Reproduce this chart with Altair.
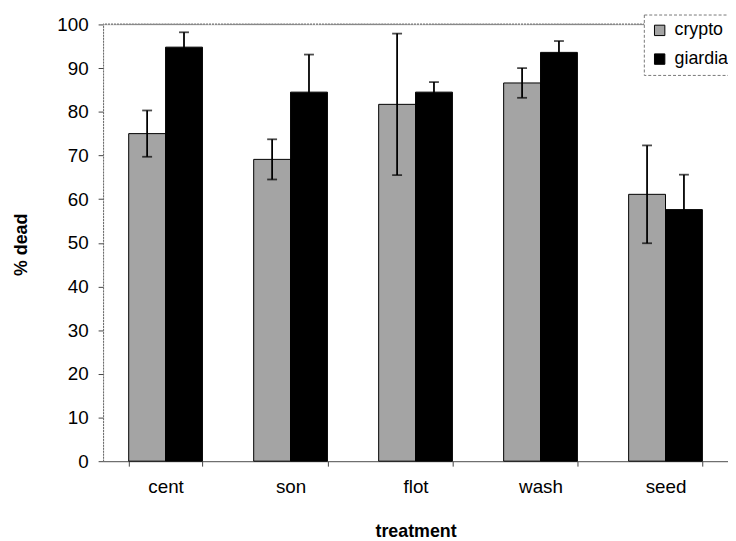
import altair as alt
import pandas as pd

treatments = ["cent", "son", "flot", "wash", "seed"]
species = ["crypto", "giardia"]
crypto_mean = [75.0, 69.1, 81.7, 86.6, 61.1]
crypto_err = [5.3, 4.6, 16.2, 3.4, 11.2]
giardia_mean = [94.8, 84.5, 84.5, 93.6, 57.6]
giardia_err = [3.4, 8.6, 2.3, 2.6, 8.0]

rows = []
for i, t in enumerate(treatments):
    rows.append({"treatment": t, "species": "crypto", "mean": crypto_mean[i],
                 "lo": crypto_mean[i] - crypto_err[i], "hi": crypto_mean[i] + crypto_err[i]})
    rows.append({"treatment": t, "species": "giardia", "mean": giardia_mean[i],
                 "lo": giardia_mean[i] - giardia_err[i], "hi": giardia_mean[i] + giardia_err[i]})
df = pd.DataFrame(rows)

FONT = "Liberation Sans"

x = alt.X("treatment:N", sort=treatments,
          scale=alt.Scale(paddingInner=0.41, paddingOuter=0.205),
          axis=alt.Axis(title="treatment", labelAngle=0, labelFontSize=19, labelFont=FONT,
                        labelColor="black", labelPadding=12, tickBand="extent", tickSize=5,
                        tickColor="#444", domainColor="#555", titleFont=FONT, titleFontSize=18,
                        titleFontWeight="bold", titleColor="black", titleY=76,
                        titleBaseline="alphabetic"))
xo = alt.XOffset("species:N", sort=species, scale=alt.Scale(paddingInner=0, paddingOuter=0))
y = alt.Y("mean:Q", scale=alt.Scale(domain=[0, 100], nice=False),
          axis=alt.Axis(title="% dead", values=list(range(0, 101, 10)), grid=False,
                        labelFontSize=19, labelFont=FONT, labelColor="black", labelPadding=10,
                        tickSize=5, tickColor="#444", domainColor="#666", domainDash=[2, 1],
                        titleFont=FONT, titleFontSize=18, titleFontWeight="bold",
                        titleColor="black", titleX=-77, titleY=222, titleAngle=-90,
                        titleBaseline="alphabetic", titleAlign="center"))

color = alt.Color("species:N", sort=species,
                  scale=alt.Scale(domain=species, range=["#a4a4a4", "#000000"]),
                  legend=alt.Legend(title=None, orient="none", legendX=546, legendY=-10,
                                    symbolType="square", symbolSize=110,
                                    symbolStrokeColor="black", symbolStrokeWidth=1,
                                    symbolOpacity=1, labelFontSize=18, labelFont=FONT,
                                    labelColor="black", labelOffset=6, rowPadding=11,
                                    padding=7, strokeColor="#777",
                                    fillColor="white"))

bars = alt.Chart(df).mark_bar(stroke="black", strokeWidth=1).encode(
    x=x, xOffset=xo, y=y, color=color)

err = alt.Chart(df).mark_rule(color="black", strokeWidth=1.8).encode(
    x=alt.X("treatment:N", sort=treatments), xOffset=alt.XOffset("species:N", sort=species),
    y="lo:Q", y2="hi:Q")

cap_hi = alt.Chart(df).mark_tick(color="black", orient="horizontal", size=10, thickness=1.8).encode(
    x=alt.X("treatment:N", sort=treatments), xOffset=alt.XOffset("species:N", sort=species),
    y="hi:Q")
cap_lo = alt.Chart(df).mark_tick(color="black", orient="horizontal", size=10, thickness=1.8).encode(
    x=alt.X("treatment:N", sort=treatments), xOffset=alt.XOffset("species:N", sort=species),
    y="lo:Q")

top = alt.Chart(df).mark_rule(color="#888", strokeDash=[2, 1], strokeWidth=1).encode(
    y=alt.datum(100))

chart = alt.layer(top, bars, err, cap_hi, cap_lo).properties(
    width=631, height=441,
    autosize=alt.AutoSizeParams(type="none"),
    padding={"left": 96, "top": 14, "right": 0, "bottom": 78},
).configure_view(stroke=None).configure(background="white").configure_legend(strokeDash=[3, 2])

chart.save("out.html", embed_options={"renderer": "svg", "actions": False})
